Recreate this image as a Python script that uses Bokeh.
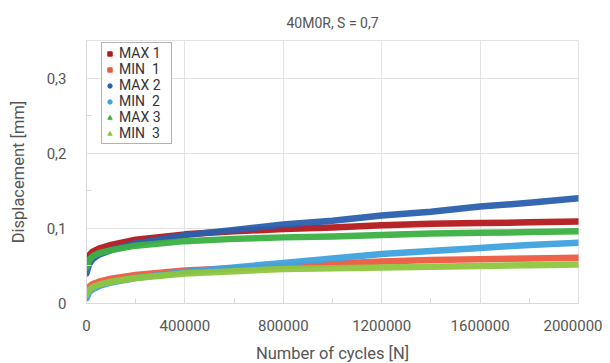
from bokeh.plotting import figure
from bokeh.models import Legend, LegendItem, ColumnDataSource, FixedTicker, Range1d
from bokeh.embed import file_html
from bokeh.resources import INLINE

cycles = [0, 10000, 25000, 50000, 100000, 200000, 400000, 600000, 800000,
          1000000, 1200000, 1400000, 1600000, 1800000, 2000000]
max1 = [0.055, 0.064, 0.069, 0.073, 0.078, 0.085, 0.092, 0.096, 0.099, 0.101, 0.104, 0.106, 0.107, 0.108, 0.109]
min1 = [0.015, 0.022, 0.026, 0.029, 0.033, 0.038, 0.044, 0.047, 0.050, 0.053, 0.056, 0.058, 0.059, 0.060, 0.061]
max2 = [0.040, 0.052, 0.059, 0.065, 0.071, 0.080, 0.091, 0.098, 0.105, 0.110, 0.117, 0.122, 0.129, 0.134, 0.140]
min2 = [0.007, 0.015, 0.019, 0.023, 0.028, 0.034, 0.042, 0.048, 0.054, 0.060, 0.066, 0.070, 0.074, 0.078, 0.081]
max3 = [0.048, 0.058, 0.063, 0.067, 0.071, 0.077, 0.083, 0.086, 0.088, 0.089, 0.091, 0.093, 0.094, 0.095, 0.096]
min3 = [0.012, 0.018, 0.022, 0.025, 0.029, 0.034, 0.040, 0.043, 0.046, 0.047, 0.048, 0.049, 0.050, 0.051, 0.052]

series_names = ["MAX 1", "MIN  1", "MAX 2", "MIN  2", "MAX 3", "MIN  3"]
series_vals = [max1, min1, max2, min2, max3, min3]
colors = ["#b3191e", "#ec5a40", "#2b5fae", "#3fa2de", "#3cb043", "#8ec63f"]
markers = ["square", "square", "circle", "circle", "triangle", "triangle"]

x_ticks = [0, 400000, 800000, 1200000, 1600000, 2000000]
y_ticks = [0, 0.1, 0.2, 0.3]
y_tick_labels = ["0", "0,1", "0,2", "0,3"]

FONT = "Roboto"
GREY = "#555555"

p = figure(width=602, height=360, frame_width=492, frame_height=263,
           output_backend="svg", toolbar_location=None,
           x_range=Range1d(0, 2000000), y_range=Range1d(0, 0.35),
           min_border_left=86, min_border_right=24, min_border_top=40, min_border_bottom=57)

p.title.text = "40M0R, S = 0,7"
p.title.align = "center"
p.title.text_font = FONT
p.title.text_font_size = "14px"
p.title.text_font_style = "normal"
p.title.text_color = GREY
p.title.offset = 0
p.title.standoff = 20

for i in range(6):
    p.line(cycles, series_vals[i], line_color=colors[i], line_width=6.5, line_alpha=0.95,
           line_cap="round", line_join="round")

nan = float("nan")
items = []
for i in range(6):
    src = ColumnDataSource(dict(x=[nan], y=[nan]))
    r = p.scatter("x", "y", source=src, marker=markers[i], size=4,
                  fill_color=colors[i], line_color=colors[i])
    items.append(LegendItem(label=series_names[i], renderers=[r]))

legend = Legend(items=items, location=(15, 159))
legend.label_text_font = FONT
legend.label_text_font_size = "14px"
legend.label_text_color = "#333333"
legend.label_height = 13
legend.label_width = 50
legend.glyph_height = 11
legend.glyph_width = 11
legend.label_standoff = 4
legend.spacing = 0
legend.padding = 2
legend.margin = 0
legend.border_line_color = "#666666"
legend.border_line_width = 1
legend.background_fill_alpha = 1
p.add_layout(legend)

p.xaxis.ticker = FixedTicker(ticks=x_ticks, minor_ticks=list(range(0, 2000001, 200000)))
p.yaxis.ticker = FixedTicker(ticks=y_ticks, minor_ticks=[0.05, 0.15, 0.25])
p.yaxis.major_label_overrides = {t: l for t, l in zip(y_ticks, y_tick_labels)}
p.xaxis.major_label_overrides = {t: str(t) for t in x_ticks}

for ax in (p.xaxis, p.yaxis):
    ax.axis_line_color = "#d9d9d9"
    ax.major_tick_line_color = None
    ax.minor_tick_in = 5
    ax.minor_tick_out = 0
    ax.minor_tick_line_color = "#d9d9d9"
    ax.major_label_text_font = FONT
    ax.major_label_text_font_size = "15px"
    ax.major_label_text_color = GREY
    ax.axis_label_text_font = FONT
    ax.axis_label_text_font_size = "16.5px"
    ax.axis_label_text_font_style = "normal"
    ax.axis_label_text_color = GREY

p.xaxis.axis_label = "Number of cycles [N]"
p.yaxis.axis_label = "Displacement [mm]"
p.xaxis.major_label_standoff = 10
p.yaxis.major_label_standoff = 14
p.xaxis.axis_label_standoff = 10
p.yaxis.axis_label_standoff = 16

p.xgrid.grid_line_color = "#e3e3e3"
p.ygrid.grid_line_color = "#e3e3e3"
p.outline_line_color = "#e3e3e3"
p.background_fill_color = "white"
p.border_fill_color = "white"

open("out.html", "w").write(file_html(p, INLINE))
